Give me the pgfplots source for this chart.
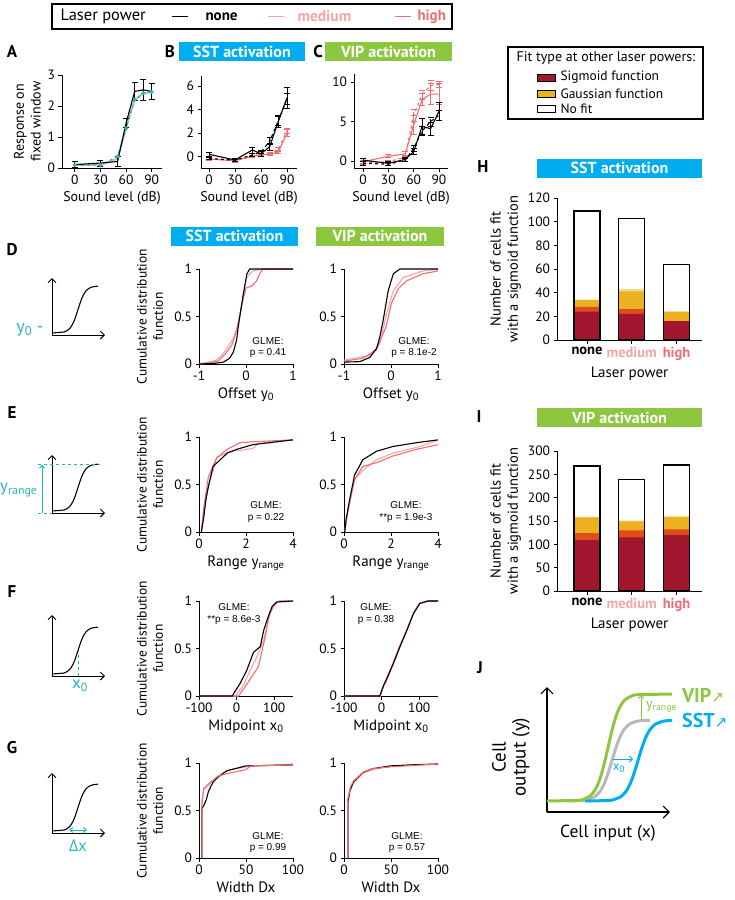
\documentclass[border=0pt]{standalone}
\usepackage{fontspec}
\setmainfont{PT Sans}
\newfontfamily\arialfont{Liberation Sans}
\newfontfamily\symfont{DejaVu Sans}
\newfontfamily\grkfont{Open Sans}
\usepackage{pgfplots}
\usepackage{pgfplotstable}
\pgfplotsset{compat=1.18}
\usetikzlibrary{arrows.meta}

\definecolor{medc}{HTML}{F3A6A8}
\definecolor{highc}{HTML}{EE6E73}
\definecolor{sstc}{HTML}{00AEEF}
\definecolor{vipc}{HTML}{8DC63F}
\definecolor{tealc}{HTML}{25B5BE}
\definecolor{redbar}{HTML}{A3162F}
\definecolor{orbar}{HTML}{DE4E1C}
\definecolor{goldbar}{HTML}{ECB11F}
\definecolor{ltbar}{HTML}{F6D98A}
\definecolor{jgray}{HTML}{B8B8B8}

\newcommand\fs[1]{\fontsize{#1}{\dimexpr #1pt*6/5\relax}\selectfont}

\pgfplotsset{
  base/.style={scale only axis, anchor=south west, axis lines=left,
    axis line style={-, line width=0.8pt},
    tick align=outside, major tick length=3.5pt,
    every tick/.style={black, line width=0.8pt},
    tick label style={font=\fs{13.5}},
    label style={font=\fs{14}},
    /pgf/number format/assume math mode=true,
    every axis plot/.append style={line width=1.1pt},
    clip=false},
  cdf/.style={base, width=94pt, height=95pt, ymin=0, ymax=1, ytick={0,0.5,1},
    xlabel style={font=\fs{15}}},
  snd/.style={base, xtick={0,30,60,90}, xlabel={Sound level (dB)}},
  eb/.style={error bars/.cd, y dir=both, y explicit,
    error bar style={line width=0.8pt},
    error mark options={rotate=90, mark size=3pt, line width=0.8pt}},
  bars/.style={base, width=145pt, xmin=-0.67, xmax=2.57, ymin=0,
    xtick={0,1,2},
    xticklabels={{\bfseries none},{\color{medc}\bfseries medium},{\color{highc}\bfseries high}},
    x tick label style={font=\fs{14.5}},
    xlabel={Laser power}, xlabel style={font=\fs{15}},
    ylabel={Number of cells fit\\with a sigmoid function},
    ylabel style={align=center, font=\fs{14.5}}},
  bb/.style={ybar, bar width=26pt, draw=none},
  sch/.style={scale only axis, anchor=south west, axis lines=left,
    axis line style={-{Straight Barb[length=4pt,width=8pt]}, line width=0.9pt},
    xtick=\empty, ytick=\empty, xmin=0, xmax=53, ymin=0, width=53pt, clip=false},
}

% schematic sigmoid (local pt units)
\pgfplotstableread{
x y
0 2
12 3
15 4.3
18 6.8
21 11.7
23.5 17.8
26 25.5
28.5 33.2
31 39.3
34 44.2
37 46.7
40 48
46 48.9
}\sigtab

\begin{document}
\begin{tikzpicture}[x=1pt,y=1pt]
\path[use as bounding box] (0,0) rectangle (734,-900);

% ---------- top legend
\draw[line width=1.3pt] (52,-4) rectangle (452,-29);
\node[anchor=west, font=\fs{16.5}] at (57,-16.5) {Laser power};
\draw[black, line width=1pt] (172,-16) -- (188,-16);
\node[anchor=west, font=\fs{15}\bfseries] at (202,-16.5) {none};
\draw[medc, line width=1pt] (268,-16) -- (284,-16);
\node[anchor=west, font=\fs{15.5}\bfseries, text=medc] at (294,-16.5) {medium};
\draw[highc, line width=1pt] (395,-16) -- (411,-16);
\node[anchor=west, font=\fs{15}\bfseries, text=highc] at (414,-16.5) {high};

% ---------- panel letters
\foreach \l/\x/\y in {A/12/52, B/170/52, C/318/52, D/12/250, E/12/413, F/12/592, G/12/748, H/483/167, I/479/417, J/480/668}
  \node[font=\fs{17}\bfseries] at (\x,-\y) {\l};

% ---------- title boxes
\tikzset{ttl/.style={text=white, font=\fs{16}\bfseries, minimum height=19pt, inner sep=0pt}}
\node[ttl, fill=sstc, minimum width=126pt] at (242,-51.5) {SST activation};
\node[ttl, fill=vipc, minimum width=127pt] at (388.5,-51.5) {VIP activation};
\node[ttl, fill=sstc, minimum width=127pt] at (234.5,-236) {SST activation};
\node[ttl, fill=vipc, minimum width=128pt] at (380,-236) {VIP activation};
\node[ttl, fill=sstc, minimum width=165pt] at (619.5,-168) {SST activation};
\node[ttl, fill=vipc, minimum width=165pt] at (619.5,-417.5) {VIP activation};

% ---------- A
\begin{axis}[snd, at={(62pt,-168pt)}, width=100pt, height=93pt,
  xmin=-15, xmax=102, ymin=0, ymax=3, ytick={0,1,2,3},
  ylabel={Response on\\fixed window}, ylabel style={align=center}]
\addplot[black!25, line width=2pt] coordinates {(0,0.1)(30,0.1)(50,0.3)(60,1.3)(70,2.2)(80,2.4)(90,2.45)};
\addplot[tealc, dashed, mark=*, mark size=1.4pt, mark options={solid}] coordinates {(0,0.1)(30,0.09)(50,0.37)(60,1.28)(70,2.2)(80,2.41)(90,2.45)};
\addplot[black, eb] coordinates {(0,0.11) +- (0,0.1) (30,0.16) +- (0,0.1) (50,0.21) +- (0,0.15) (60,1.45) +- (0,0.15) (70,2.47) +- (0,0.3) (80,2.52) +- (0,0.35) (90,2.47) +- (0,0.25)};
\end{axis}

% ---------- B
\begin{axis}[snd, at={(201pt,-168pt)}, width=96pt, height=92pt,
  xmin=-9.2, xmax=101.5, ymin=-0.96, ymax=6.84, ytick={0,2,4,6}]
\addplot[highc, dashed, eb] coordinates {(0,-0.2) +- (0,0.1) (30,-0.3) +- (0,0.1) (50,0.0) +- (0,0.1) (60,0.12) +- (0,0.1) (70,0.3) +- (0,0.1) (80,0.6) +- (0,0.15) (90,2.2) +- (0,0.2)};
\addplot[highc, eb] coordinates {(0,-0.2) +- (0,0.1) (30,-0.35) +- (0,0.1) (50,0.05) +- (0,0.1) (60,0.2) +- (0,0.1) (70,0.2) +- (0,0.1) (80,0.4) +- (0,0.15) (90,2.0) +- (0,0.3)};
\addplot[black, dashed, eb] coordinates {(0,-0.15) +- (0,0.1) (30,-0.3) +- (0,0.1) (50,0.15) +- (0,0.15) (60,0.4) +- (0,0.15) (70,1.3) +- (0,0.3) (80,3.05) +- (0,0.4) (90,4.9) +- (0,0.5)};
\addplot[black, eb] coordinates {(0,0.2) +- (0,0.15) (30,-0.28) +- (0,0.1) (50,0.57) +- (0,0.25) (60,0.25) +- (0,0.2) (70,0.85) +- (0,0.3) (80,3.0) +- (0,0.5) (90,5.0) +- (0,0.9)};
\end{axis}

% ---------- C
\begin{axis}[snd, at={(354pt,-168pt)}, width=94pt, height=94pt,
  xmin=-10.7, xmax=100.7, ymin=-0.89, ymax=11.05, ytick={0,5,10}]
\addplot[highc, dashed, eb] coordinates {(0,-0.2) +- (0,0.2) (30,-0.1) +- (0,0.2) (50,0.5) +- (0,0.2) (60,5.8) +- (0,0.8) (70,8.4) +- (0,0.6) (80,9.6) +- (0,0.6) (90,9.7) +- (0,0.4)};
\addplot[highc, eb] coordinates {(0,-0.1) +- (0,0.2) (30,0.6) +- (0,0.2) (50,0.9) +- (0,0.3) (60,4.6) +- (0,1.2) (70,7.8) +- (0,0.8) (80,8.5) +- (0,1.3) (90,8.5) +- (0,1.3)};
\addplot[black, dashed, eb] coordinates {(0,-0.3) +- (0,0.2) (30,-0.4) +- (0,0.2) (50,0.1) +- (0,0.2) (60,1.6) +- (0,0.4) (70,3.8) +- (0,0.6) (80,5.0) +- (0,0.6) (90,5.8) +- (0,0.6)};
\addplot[black, eb] coordinates {(0,0.1) +- (0,0.2) (30,-0.3) +- (0,0.3) (50,0.2) +- (0,0.2) (60,1.2) +- (0,0.4) (70,4.4) +- (0,1.0) (80,4.1) +- (0,0.8) (90,6.3) +- (0,1.2)};
\end{axis}

% ---------- schematics
\begin{axis}[sch, at={(52pt,-335pt)}, height=57pt, ymax=57]
\addplot[black, line width=1.1pt, smooth] table {\sigtab};
\end{axis}
\node[anchor=east, text=tealc, font=\fs{18}] at (47,-330) {y\textsubscript{0} -};

\begin{axis}[sch, at={(52pt,-513pt)}, height=58pt, ymax=58]
\addplot[black, line width=1.1pt, smooth] table {\sigtab};
\draw[tealc, dashed, line width=1pt] (axis cs:-14,48.9) -- (axis cs:48,48.9);
\draw[tealc, dashed, line width=1pt] (axis cs:-14,0) -- (axis cs:0,0);
\draw[tealc, line width=1pt, -{Straight Barb[length=3pt,width=5pt]}] (axis cs:-10,0) -- (axis cs:-10,48.5);
\end{axis}
\node[anchor=west, text=tealc, font=\fs{17}, inner sep=0pt] at (0,-490) {y\textsubscript{range}};

\begin{axis}[sch, at={(52pt,-676pt)}, height=61pt, ymax=61]
\addplot[black, line width=1.1pt, smooth] table {\sigtab};
\draw[tealc, dashed, line width=1pt] (axis cs:26,0) -- (axis cs:26,25.5);
\end{axis}
\node[text=tealc, font=\fs{17}] at (80,-686) {x\textsubscript{0}};

\begin{axis}[sch, at={(52pt,-833pt)}, height=60pt, ymax=60]
\addplot[black, line width=1.1pt, smooth] table {\sigtab};
\draw[tealc, line width=1pt, {Straight Barb[length=3pt,width=5pt]}-{Straight Barb[length=3pt,width=5pt]}] (axis cs:17,3) -- (axis cs:35,3);
\end{axis}
\node[text=tealc, font=\grkfont\fs{16}] at (78,-846) {Δx};

% ---------- CDF ylabels
\foreach \yc in {316.5, 484.5, 648.5, 811}
  \node[rotate=90, align=center, font=\fs{13.5}] at (150,-\yc) {Cumulative distribution\\function};

% ---------- D
\begin{axis}[cdf, at={(199pt,-364pt)}, xmin=-1, xmax=1, xtick={-1,0,1}, xlabel={Offset y\textsubscript{0}}]
\addplot[medc] coordinates {(-1,0)(-0.8,0.02)(-0.63,0.04)(-0.5,0.1)(-0.41,0.16)(-0.27,0.27)(-0.17,0.41)(-0.06,0.7)(0.01,0.91)(0.15,0.98)(0.36,1)(1,1)};
\addplot[highc] coordinates {(-1,0)(-0.8,0.01)(-0.6,0.03)(-0.45,0.1)(-0.3,0.2)(-0.2,0.35)(-0.1,0.6)(0,0.8)(0.12,0.82)(0.22,0.87)(0.29,0.95)(0.36,1)(1,1)};
\addplot[black] coordinates {(-1,0)(-0.7,0.005)(-0.48,0.02)(-0.35,0.06)(-0.27,0.125)(-0.2,0.25)(-0.17,0.375)(-0.1,0.6)(-0.06,0.73)(0.02,0.95)(0.08,1)(1,1)};
\end{axis}
\begin{axis}[cdf, at={(344pt,-364pt)}, xmin=-1, xmax=1, xtick={-1,0,1}, xlabel={Offset y\textsubscript{0}}]
\addplot[medc] coordinates {(-1,0.04)(-0.45,0.09)(-0.24,0.21)(-0.1,0.52)(0.05,0.77)(0.26,0.91)(0.68,0.98)(1,1)};
\addplot[highc] coordinates {(-1,0.03)(-0.6,0.06)(-0.31,0.15)(-0.1,0.4)(0.01,0.64)(0.15,0.79)(0.33,0.875)(0.68,0.95)(1,0.98)};
\addplot[black] coordinates {(-1,0.02)(-0.66,0.025)(-0.45,0.07)(-0.31,0.16)(-0.24,0.28)(-0.17,0.45)(-0.06,0.77)(0.05,0.95)(0.19,1)(1,1)};
\end{axis}

% ---------- E
\begin{axis}[cdf, at={(199pt,-532pt)}, xmin=0, xmax=4, xtick={0,2,4}, xlabel={Range y\textsubscript{range}}]
\addplot[medc] coordinates {(0.1,0)(0.2,0.2)(0.4,0.48)(0.75,0.78)(1.3,0.85)(1.75,0.86)(2.3,0.88)(2.5,0.93)(4,0.97)};
\addplot[highc] coordinates {(0.1,0)(0.2,0.25)(0.4,0.58)(0.75,0.78)(1.2,0.87)(1.75,0.94)(2.3,0.95)(4,0.97)};
\addplot[black] coordinates {(0.1,0)(0.2,0.15)(0.3,0.35)(0.4,0.48)(0.6,0.69)(0.9,0.76)(1.2,0.83)(1.6,0.87)(2.3,0.92)(4,0.97)};
\end{axis}
\begin{axis}[cdf, at={(344pt,-532pt)}, xmin=0, xmax=4, xtick={0,2,4}, xlabel={Range y\textsubscript{range}}]
\addplot[medc] coordinates {(0.03,0)(0.1,0.12)(0.24,0.3)(0.45,0.55)(0.8,0.65)(1.38,0.76)(2.08,0.83)(3.08,0.89)(4,0.965)};
\addplot[highc] coordinates {(0.03,0)(0.1,0.13)(0.24,0.32)(0.45,0.55)(0.8,0.69)(1.38,0.73)(2.08,0.8)(3.08,0.87)(4,0.92)};
\addplot[black] coordinates {(0.03,0)(0.1,0.15)(0.24,0.34)(0.45,0.6)(0.8,0.76)(1.38,0.85)(2.08,0.9)(3.08,0.94)(4,0.97)};
\end{axis}

% ---------- F
\begin{axis}[cdf, at={(199pt,-696pt)}, xmin=-100, xmax=150, xtick={-100,0,100}, xlabel={Midpoint x\textsubscript{0}}]
\addplot[medc] coordinates {(-100,0)(0,0)(0,0.02)(18,0.11)(36,0.27)(54,0.41)(72,0.59)(89,0.87)(107,0.99)(150,1)};
\addplot[highc] coordinates {(-100,0)(5,0)(23,0.1)(40,0.2)(58,0.31)(76,0.62)(85,0.83)(98,0.96)(115,1)(150,1)};
\addplot[black] coordinates {(-100,0)(-11,0)(-8,0.025)(9,0.13)(27,0.27)(45,0.46)(63,0.52)(72,0.69)(81,0.8)(94,0.94)(107,0.99)(150,1)};
\end{axis}
\begin{axis}[cdf, at={(344pt,-696pt)}, xmin=-100, xmax=150, xtick={-100,0,100}, xlabel={Midpoint x\textsubscript{0}}]
\addplot[medc] coordinates {(-100,0)(-3,0)(5,0.11)(15,0.19)(31,0.36)(49,0.54)(67,0.7)(85,0.88)(102,0.98)(120,1)(150,1)};
\addplot[highc] coordinates {(-100,0)(-4,0)(5,0.1)(14,0.17)(31,0.34)(49,0.53)(67,0.69)(85,0.87)(100,0.97)(120,1)(150,1)};
\addplot[black] coordinates {(-100,0)(-5,0)(4,0.1)(13,0.18)(31,0.34)(49,0.52)(67,0.69)(85,0.87)(102,0.975)(125,1)(150,1)};
\end{axis}

% ---------- G
\begin{axis}[cdf, at={(199pt,-858pt)}, xmin=0, xmax=100, xtick={0,50,100}, xlabel={Width Dx}]
\addplot[medc] coordinates {(3,0)(3,0.6)(5,0.72)(10,0.76)(20,0.86)(30,0.92)(50,0.96)(100,0.99)};
\addplot[black] coordinates {(3,0)(3,0.52)(5,0.55)(8,0.62)(10,0.7)(15,0.8)(20,0.85)(30,0.92)(50,0.97)(100,0.98)};
\addplot[highc] coordinates {(3,0)(3,0.55)(5,0.73)(10,0.78)(20,0.86)(30,0.89)(40,0.91)(50,0.93)(55,0.97)(100,0.98)};
\end{axis}
\begin{axis}[cdf, at={(344pt,-858pt)}, xmin=0, xmax=100, xtick={0,50,100}, xlabel={Width Dx}]
\addplot[medc] coordinates {(4.5,0)(4.5,0.6)(7,0.72)(10,0.79)(20,0.89)(30,0.93)(50,0.97)(100,0.985)};
\addplot[black] coordinates {(4,0)(4,0.58)(6,0.7)(10,0.8)(20,0.9)(30,0.94)(50,0.97)(70,0.98)(100,0.99)};
\addplot[highc] coordinates {(4,0)(4,0.62)(7,0.75)(10,0.81)(20,0.9)(30,0.94)(50,0.96)(100,0.99)};
\end{axis}

% ---------- GLME texts
\tikzset{gl/.style={align=center, font=\arialfont\fontsize{10}{11.5}\selectfont}}
\node[gl] at (268,-347.5) {GLME:\\p = 0.41};
\node[gl] at (414,-347.5) {GLME:\\p = 8.1e-2};
\node[gl] at (266,-512) {GLME:\\p = 0.22};
\node[gl] at (406,-512) {GLME:\\**p = 1.9e-3};
\node[gl] at (234,-614) {GLME:\\**p = 8.6e-3};
\node[gl] at (376,-614) {GLME:\\p = 0.38};
\node[gl] at (268,-842.5) {GLME:\\p = 0.99};
\node[gl] at (407,-842.5) {GLME:\\p = 0.57};

% ---------- fit-type legend
\draw[line width=1.3pt] (508,-47) rectangle (703,-119);
\node[font=\fs{14}] at (606,-58) {Fit type at other laser powers:};
\fill[redbar] (537,-74) rectangle (555,-81); \draw[line width=0.8pt] (537,-74) rectangle (555,-81);
\fill[goldbar] (537,-90) rectangle (555,-97); \draw[line width=0.8pt] (537,-90) rectangle (555,-97);
\draw[line width=0.8pt] (537,-105) rectangle (555,-112);
\node[anchor=west, font=\fs{13.5}] at (557,-77.5) {Sigmoid function};
\node[anchor=west, font=\fs{13.5}] at (557,-93.5) {Gaussian function};
\node[anchor=west, font=\fs{13.5}] at (557,-108.5) {No fit};

% ---------- H
\begin{axis}[bars, at={(557pt,-340pt)}, height=142pt, ymax=120, ytick={0,20,...,120}]
\addplot[bb, fill=white] coordinates {(0,109)(1,103)(2,64)};
\addplot[bb, fill=ltbar] coordinates {(0,34)(1,43)(2,24)};
\addplot[bb, fill=goldbar] coordinates {(0,34)(1,41)(2,24)};
\addplot[bb, fill=orbar] coordinates {(0,28)(1,26)(2,16)};
\addplot[bb, fill=redbar] coordinates {(0,24)(1,22)(2,16)};
\addplot[ybar, bar width=26pt, draw=black, fill=none, line width=1.2pt] coordinates {(0,109)(1,103)(2,64)};
\end{axis}

% ---------- I
\begin{axis}[bars, at={(557pt,-591pt)}, height=140pt, ymax=300, ytick={0,50,...,300}]
\addplot[bb, fill=white] coordinates {(0,268)(1,239)(2,270)};
\addplot[bb, fill=ltbar] coordinates {(0,159)(1,151)(2,160)};
\addplot[bb, fill=goldbar] coordinates {(0,158)(1,149)(2,159)};
\addplot[bb, fill=orbar] coordinates {(0,124)(1,130)(2,132)};
\addplot[bb, fill=redbar] coordinates {(0,109)(1,115)(2,120)};
\addplot[ybar, bar width=26pt, draw=black, fill=none, line width=1.2pt] coordinates {(0,268)(1,239)(2,270)};
\end{axis}

% ---------- J
\begin{axis}[scale only axis, anchor=south west, at={(547pt,-812pt)}, width=123pt, height=125pt,
  xmin=0, xmax=123, ymin=0, ymax=125, axis lines=left,
  axis line style={-{Straight Barb[length=6pt,width=12pt]}, line width=1.1pt},
  xtick=\empty, ytick=\empty, clip=false]
\addplot[jgray, line width=3pt, smooth] coordinates {(20,11)(35,11.5)(41,12.5)(47,14.8)(50,17.2)(53,20.6)(56,25.7)(59,32.8)(62,41.6)(65,51.5)(68,61.4)(71,70.2)(74,77.3)(77,82.4)(80,85.8)(83,88.2)(89,90.5)(95,91.4)(103,91.7)};
\addplot[sstc, line width=3pt, smooth] coordinates {(38,11)(61,11.5)(67,12.5)(73,14.8)(76,17.2)(79,20.6)(82,25.7)(85,32.8)(88,41.6)(91,51.5)(94,61.4)(97,70.2)(100,77.3)(103,82.4)(106,85.8)(109,88.2)(115,90.5)(121,91.4)(125,91.7)};
\addplot[vipc, line width=3pt, smooth] coordinates {(0,11)(31,11.7)(37,12.9)(43,16)(46,19.1)(49,23.7)(52,30.5)(55,39.8)(58,51.4)(61,64.5)(64,77.6)(67,89.2)(70,98.5)(73,105.3)(76,109.9)(79,113)(85,116.1)(91,117.3)(125,118)};
\draw[vipc, line width=1pt, -{Straight Barb[length=3pt,width=6pt]}] (axis cs:94,92) -- (axis cs:94,117);
\draw[sstc, line width=1pt, -{Straight Barb[length=3pt,width=6pt]}] (axis cs:66,53) -- (axis cs:86,53);
\end{axis}
\node[anchor=west, text=vipc, font=\fs{14}, inner sep=0pt] at (646,-707) {y\textsubscript{range}};
\node[text=sstc, font=\fs{13}, inner sep=0pt] at (619,-768) {x\textsubscript{0}};
\node[anchor=west, text=vipc, font=\fs{20}\bfseries, inner sep=0pt] at (682,-695) {VIP{\symfont\fontseries{m}\selectfont\fs{15}↗}};
\node[anchor=west, text=sstc, font=\fs{20}\bfseries, inner sep=0pt] at (682,-720) {SST{\symfont\fontseries{m}\selectfont\fs{15}↗}};
\node[rotate=90, align=center, font=\fontsize{19}{20}\selectfont] at (511,-757) {Cell\\output (y)};
\node[font=\fs{17.5}] at (608,-833) {Cell input (x)};
\end{tikzpicture}
\end{document}
